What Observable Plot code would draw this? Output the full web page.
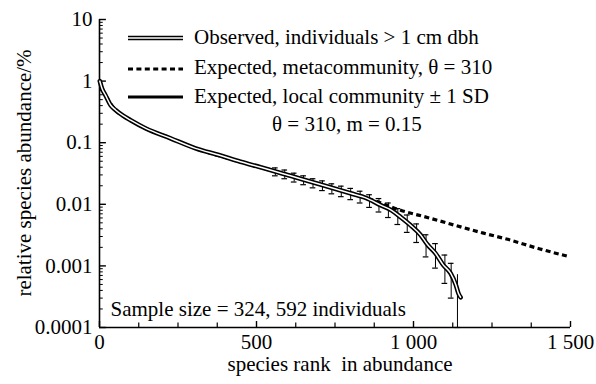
<!DOCTYPE html>
<html><head><meta charset="utf-8">
<script src="https://cdn.jsdelivr.net/npm/d3@7"></script>
<script src="https://cdn.jsdelivr.net/npm/@observablehq/plot@0.6"></script>
<style>body{margin:0;background:#fff} svg{display:block} svg text{font-family:"Liberation Serif","Times New Roman","DejaVu Serif",serif !important;}</style>
</head><body><div id="chart"></div>
<script>
// Observed rank-abundance (relative abundance, %)
const obsRank  = [1, 3, 8, 19, 35, 51, 75, 99, 146, 226, 306, 380, 449, 513, 608, 704, 799, 850, 895, 930, 959, 990, 1022, 1045, 1070, 1095, 1118, 1135, 1143, 1150];
const obsValue = [1.0, 0.92, 0.76, 0.59, 0.41, 0.34, 0.275, 0.232, 0.172, 0.118, 0.081, 0.063, 0.049, 0.040, 0.029, 0.021, 0.0151, 0.0126, 0.0097, 0.0080, 0.0062, 0.0046, 0.0032, 0.0022, 0.0016, 0.00103, 0.00076, 0.00049, 0.00036, 0.00031];
// Expected, metacommunity (theta = 310)
const metaRank  = [1, 8, 19, 51, 99, 146, 226, 306, 449, 608, 704, 799, 860, 959, 1050, 1150, 1223, 1300, 1400, 1490];
const metaValue = [1.0, 0.76, 0.59, 0.34, 0.232, 0.172, 0.118, 0.081, 0.049, 0.029, 0.021, 0.0152, 0.0122, 0.0080, 0.0060, 0.0043, 0.0034, 0.0027, 0.0019, 0.00144];
// Expected, local community (theta = 310, m = 0.15) with +-1 SD
const localRank  = [1, 8, 19, 51, 99, 146, 226, 306, 449, 560, 590, 620, 650, 680, 710, 740, 770, 800, 830, 860, 890, 920, 950, 980, 1010, 1040, 1070, 1100, 1120, 1140, 1148];
const localValue = [1.0, 0.76, 0.59, 0.34, 0.232, 0.172, 0.118, 0.081, 0.049, 0.034, 0.031, 0.0275, 0.0249, 0.0224, 0.0204, 0.0182, 0.0166, 0.0151, 0.0135, 0.0117, 0.0100, 0.0083, 0.0066, 0.0051, 0.0036, 0.0023, 0.0016, 0.0010, 0.00071, 0.00042, 0.00032];
const errRank = [560, 590, 620, 650, 680, 710, 740, 770, 800, 830, 860, 890, 920, 950, 980, 1010, 1040, 1070, 1100, 1120, 1140];
const errLow  = [0.029, 0.026, 0.023, 0.0208, 0.0185, 0.0167, 0.0148, 0.0133, 0.0119, 0.0105, 0.0089, 0.0075, 0.0061, 0.0047, 0.0035, 0.0024, 0.0014, 0.00092, 0.00052, 0.00030, 0.0001];
const errHigh = [0.039, 0.036, 0.032, 0.029, 0.026, 0.024, 0.0215, 0.0197, 0.0181, 0.0163, 0.0143, 0.0124, 0.0105, 0.0085, 0.0067, 0.0048, 0.0032, 0.0023, 0.0015, 0.0011, 0.00072];
// Axis ticks
const yTicks = [10, 1, 0.1, 0.01, 0.001, 0.0001];
const yTickLabels = ["10", "1", "0.1", "0.01", "0.001", "0.0001"];
const yMinor = [2,3,4,5,6,7,8,9].flatMap(k => [0.0001, 0.001, 0.01, 0.1, 1].map(d => k * d));
const xTicks = [0, 500, 1000, 1500];
const xTickLabels = ["0", "500", "1 000", "1 500"];
const xMinor = [125, 250, 375, 625, 750, 875, 1125, 1250, 1375];

const obs = obsRank.map((r, i) => ({r, v: obsValue[i]}));
const meta = metaRank.map((r, i) => ({r, v: metaValue[i]}));
const local = localRank.map((r, i) => ({r, v: localValue[i]}));
const err = errRank.map((r, i) => ({r, lo: errLow[i], hi: errHigh[i]}));

const FONT = "'Liberation Serif', 'Times New Roman', 'DejaVu Serif', serif";
const FS = 21;
const yMin = 0.0001;

const plot = Plot.plot({
  width: 596, height: 384,
  marginLeft: 99, marginRight: 26, marginTop: 19, marginBottom: 57,
  style: {fontFamily: FONT, fontSize: FS + "px", background: "#fff", color: "#000"},
  x: {domain: [0, 1500], axis: null, label: null},
  y: {type: "log", domain: [0.0001, 10], axis: null, label: null},
  marks: [
    // axes lines
    Plot.ruleX([0], {stroke: "#000", strokeWidth: 1.6}),
    Plot.ruleY([yMin], {stroke: "#000", strokeWidth: 1.6}),
    // y ticks (inward)
    Plot.ruleY(yTicks, {x1: 0, x2: 22, stroke: "#000", strokeWidth: 1.4}),
    Plot.ruleY(yMinor, {x1: 0, x2: 12, stroke: "#000", strokeWidth: 1}),
    // x ticks (inward)
    Plot.ruleX(xTicks, {y1: yMin, y2: 0.000125, stroke: "#000", strokeWidth: 1.4}),
    Plot.ruleX(xMinor, {y1: yMin, y2: 0.000118, stroke: "#000", strokeWidth: 1.2}),
    // tick labels
    Plot.text(yTicks, {x: 0, y: d => d, text: (d, i) => yTickLabels[i], textAnchor: "end", dx: -7, fontSize: FS, fill: "#000"}),
    Plot.text(xTicks, {x: d => d, y: yMin, text: (d, i) => xTickLabels[i], lineAnchor: "bottom", dy: 21, fontSize: FS, fill: "#000"}),
    // error bars
    Plot.ruleX(err, {x: "r", y1: "lo", y2: "hi", stroke: "#000", strokeWidth: 1}),
    Plot.ruleY(err, {y: "lo", x1: d => d.r - 9, x2: d => d.r + 9, stroke: "#000", strokeWidth: 1.2}),
    Plot.ruleY(err.filter(d => d.lo > yMin), {y: "hi", x1: d => d.r - 9, x2: d => d.r + 9, stroke: "#000", strokeWidth: 1.2}),
    // metacommunity dashed
    Plot.line(meta, {x: "r", y: "v", stroke: "#000", strokeWidth: 3.2, strokeDasharray: "5,3.4", strokeLinecap: "butt", curve: "monotone-x"}),
    // local expected
    Plot.line(local, {x: "r", y: "v", stroke: "#000", strokeWidth: 1.2, curve: "monotone-x"}),
    // observed double line
    Plot.line(obs, {x: "r", y: "v", stroke: "#000", strokeWidth: 4.6, curve: "monotone-x"}),
    Plot.line(obs, {x: "r", y: "v", stroke: "#fff", strokeWidth: 1.5, curve: "monotone-x"}),
    // sample size note
    Plot.text(["Sample size = 324, 592 individuals"], {frameAnchor: "bottom-left", dx: 11, dy: -12, textAnchor: "start", lineAnchor: "bottom", fontSize: FS, fill: "#000"}),
  ]
});

const svg = d3.select(plot);
// axis titles
svg.append("text").attr("x", 340).attr("y", 371).attr("text-anchor", "middle")
  .attr("font-size", FS).attr("fill", "#000")
  .text("species rank\u00a0 in abundance");
svg.append("text").attr("transform", "translate(31,173) rotate(-90)").attr("text-anchor", "middle")
  .attr("font-size", FS).attr("fill", "#000")
  .text("relative species abundance/%");

// legend
const lg = svg.append("g").attr("font-size", FS).attr("fill", "#000").attr("text-anchor", "start");
const lx1 = 128, lx2 = 183, tx = 194;
lg.append("line").attr("x1", lx1).attr("x2", lx2).attr("y1", 38).attr("y2", 38).attr("stroke", "#000").attr("stroke-width", 4.6);
lg.append("line").attr("x1", lx1).attr("x2", lx2).attr("y1", 38).attr("y2", 38).attr("stroke", "#fff").attr("stroke-width", 1.5);
lg.append("text").attr("x", tx).attr("y", 44).text("Observed, individuals > 1 cm dbh");
lg.append("line").attr("x1", lx1).attr("x2", lx2).attr("y1", 69).attr("y2", 69).attr("stroke", "#000").attr("stroke-width", 3.2).attr("stroke-dasharray", "5,3.4");
lg.append("text").attr("x", tx).attr("y", 74).text("Expected, metacommunity, \u03b8 = 310");
lg.append("line").attr("x1", lx1).attr("x2", lx2).attr("y1", 97).attr("y2", 97).attr("stroke", "#000").attr("stroke-width", 3);
lg.append("text").attr("x", tx).attr("y", 103).text("Expected, local community \u00b1 1 SD");
lg.append("text").attr("x", 272).attr("y", 131).text("\u03b8 = 310, m = 0.15");

document.getElementById("chart").appendChild(plot);
</script>
</body></html>
